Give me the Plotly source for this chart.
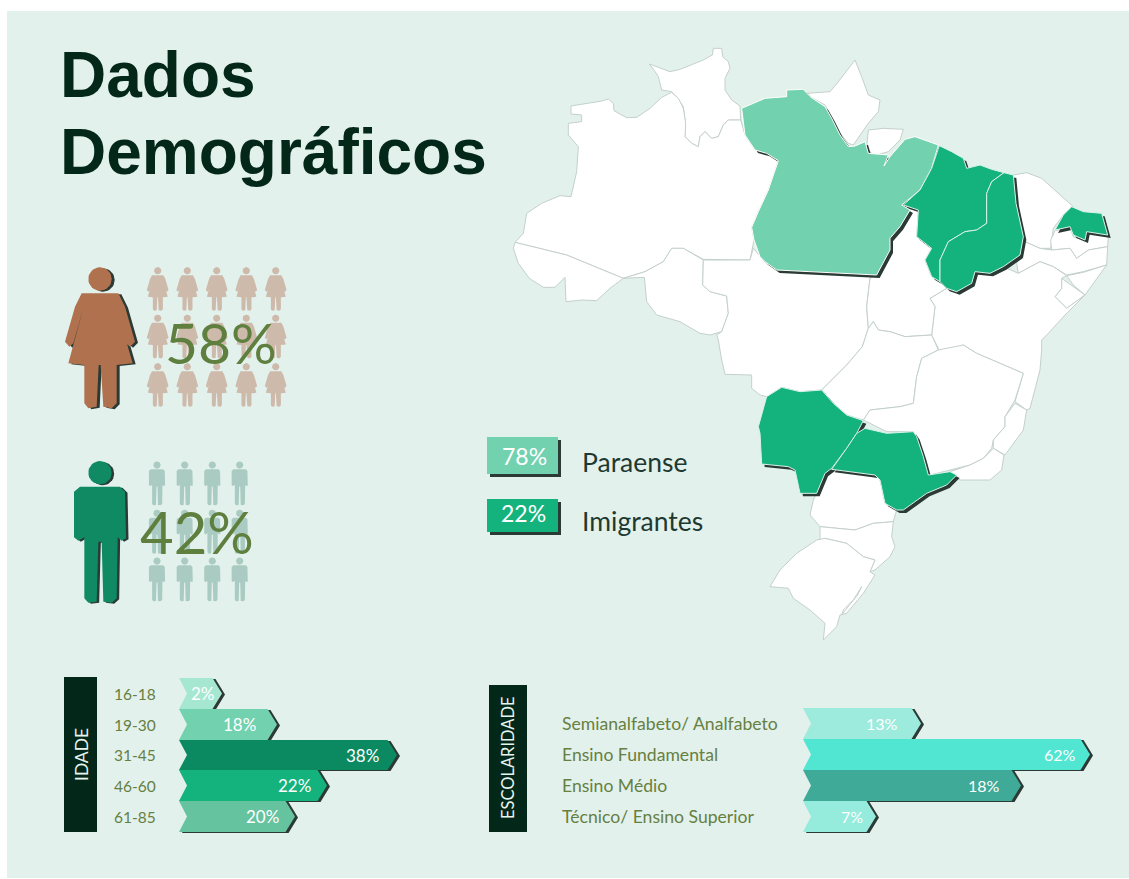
import plotly.graph_objects as go
import math

# ---------- data ----------
idade_faixas = ["16-18", "19-30", "31-45", "46-60", "61-85"]
idade_pct = ["2%", "18%", "38%", "22%", "20%"]
idade_comp = [43, 98, 218, 148, 116]          # drawn length
idade_cores = ["#a6e7d2", "#72d1af", "#0b8a62", "#14b37d", "#66c39f"]
idade_txt_x = [203, 239, 362, 294, 262]

esc_faixas = ["Semianalfabeto/ Analfabeto", "Ensino Fundamental", "Ensino Médio", "Técnico/ Ensino Superior"]
esc_pct = ["13%", "62%", "18%", "7%"]
esc_comp = [118, 287, 218, 73]
esc_cores = ["#9cebdc", "#50e6d2", "#3faa98", "#95ebdc"]
esc_txt_x = [882, 1060, 984, 852]

def a_(p):
    return [(510 + x / 3, 40 + y / 3) for x, y in p]

def b_(p):
    return [(810 + x / 3, 40 + y / 3) for x, y in p]

def c_(p):
    return [(700 + x / 3, 330 + y / 3) for x, y in p]

roraima = a_([(418,72),(445,82),(480,95),(510,88),(540,75),(580,60),(607,45),(610,25),(635,25),(638,50),(655,65),(660,85),(645,115),(645,150),(665,180),(690,198),(692,240),(655,240),(640,255),(625,290),(605,295),(585,275),(570,290),(565,320),(545,310),(525,290),(525,240),(520,200),(500,170),(485,155),(455,150),(445,110),(432,90)])
amazonas = a_([(183,198),(220,192),(255,188),(275,183),(295,177),(310,190),(312,212),(350,233),(380,232),(420,205),(455,172),(485,157),(505,175),(520,205),(527,250),(525,290),(545,310),(565,320),(570,290),(585,275),(605,295),(625,290),(640,255),(655,240),(692,240),(705,285),(735,330),(770,340),(805,362),(775,450),(745,515),(725,562),(732,600),(720,660),(580,658),(520,625),(485,625),(460,665),(405,695),(340,715),(170,645),(15,607),(40,580),(50,520),(95,490),(150,467),(183,470),(200,395),(205,320),(175,285),(175,250),(215,245),(215,225),(183,222)])
acre = a_([(15,607),(170,645),(340,715),(300,745),(260,782),(215,780),(168,785),(165,712),(135,742),(100,742),(58,715),(25,670),(10,625)])
rondonia = a_([(340,715),(405,695),(460,665),(485,625),(520,625),(580,660),(578,735),(600,755),(650,768),(655,820),(635,875),(600,885),(570,880),(510,845),(440,825),(410,785),(403,712)])
mato_grosso = a_([(580,660),(720,660),(730,625),(760,660),(800,690)]) + b_([(200,705),(180,715),(170,800),(175,865)]) + c_([(487,50),(440,105),(385,160),(365,180),(300,185),(245,172),(200,200),(180,195),(155,175),(155,135),(75,133),(65,90),(55,30)]) + a_([(620,885),(635,875),(655,820),(650,768),(600,755),(578,735)])
amapa = b_([(-10,160),(60,155),(85,125),(135,60),(155,110),(175,165),(210,180),(205,215),(175,250),(150,285),(130,315),(115,310),(90,280),(65,230),(45,195),(0,170)])
marajo = b_([(175,270),(220,265),(280,268),(270,300),(235,335),(190,348),(170,320)])
para = a_([(695,205),(765,175),(830,170),(830,150),(880,148)]) + b_([(0,170),(45,200),(65,235),(90,285),(115,320),(135,318),(165,305),(175,340),(235,345),(222,378),(240,350),(285,298),(315,290),(385,315),(365,385),(330,450),(275,495),(300,510),(270,560),(240,595),(240,630),(200,705)]) + a_([(800,690),(765,665),(750,650),(732,600),(725,562),(745,515),(775,450),(805,362),(770,340),(735,330),(705,285)])
maranhao = b_([(388,317),(425,335),(460,355),(470,385),(510,375),(545,388),(582,398),(545,425),(530,460),(530,550),(500,570),(465,575),(415,605),(390,660),(390,725),(365,710),(345,660),(365,625),(320,590),(325,510),(280,495),(330,450),(365,385)])
piaui = b_([(582,398),(610,405),(618,490),(640,590),(630,645),(580,680),(540,700),(495,695),(485,730),(440,755),(410,745),(390,725),(390,660),(415,605),(465,575),(500,570),(530,550),(530,460),(545,425)])
ceara = b_([(610,405),(650,398),(695,415),(745,460),(790,500),(760,525),(730,565),(722,625),(690,625),(645,605),(640,590),(618,490)])
rio_grande_norte = b_([(785,500),(820,515),(875,520),(893,585),(830,575),(825,600),(790,585),(780,560),(735,570),(760,525)])
paraiba = b_([(735,572),(780,562),(790,590),(825,603),(832,578),(895,588),(893,620),(835,630),(800,655),(780,625),(725,630),(722,600)])
pernambuco = b_([(645,605),(690,625),(725,630),(780,625),(800,655),(835,630),(893,620),(890,675),(820,695),(770,705),(730,680),(690,665),(625,700),(620,670),(630,645)])
alagoas = b_([(770,707),(820,697),(890,675),(860,715),(825,765),(790,735)])
sergipe = b_([(755,715),(825,765),(770,805),(735,770),(755,745)])
bahia = b_([(410,745),(440,755),(485,730),(495,695),(540,700),(580,680),(625,700),(690,665),(730,680),(770,707),(755,715),(755,745),(735,770),(770,805),(825,765),(765,825),(715,880),(695,900)]) + c_([(1025,60),(1020,120),(990,235),(980,240),(945,215),(970,130),(900,100),(830,70),(790,45),(710,80),(715,55),(695,15)]) + b_([(365,885),(375,800),(360,775)])
tocantins = b_([(180,715),(200,705),(240,630),(240,595),(270,560),(300,510),(280,495),(325,510),(320,590),(365,625),(345,660),(365,710),(390,725),(410,745),(360,775),(375,800),(365,885),(285,890),(240,875),(205,870),(190,845),(175,865),(170,800)])
goias = b_([(190,845),(205,870),(240,875),(285,890),(365,885)]) + c_([(695,15),(715,60),(695,70),(665,85),(650,140),(640,220),(600,230),(510,240),(490,270),(440,255),(400,220),(365,180),(385,160),(440,105),(487,50)]) + b_([(175,865)])
minas = c_([(650,140),(665,85),(695,70),(715,60),(790,45),(830,70),(900,100),(970,130),(945,210),(915,260),(915,290),(880,330),(875,355),(850,385),(810,405),(750,420),(690,435),(680,430),(670,380),(650,320),(640,305),(560,305),(490,270),(510,240),(600,230),(640,220)])
espirito_santo = c_([(945,220),(980,240),(970,300),(915,375),(880,355),(880,330),(915,290),(915,260)])
rio_janeiro = c_([(880,355),(912,375),(905,420),(870,450),(780,450),(750,425),(810,405),(850,385)])
mato_grosso_sul = c_([(245,172),(300,185),(365,180),(400,220),(440,255),(490,272),(470,310),(440,355),(395,415),(375,430),(350,490),(300,490),(285,420),(265,410),(185,402),(180,310),(175,290),(200,200)])
sao_paulo = c_([(495,295),(560,310),(640,305),(650,320),(670,380),(685,435),(750,425),(770,435),(740,465),(680,490),(610,540),(590,540),(555,520),(540,450),(525,435),(450,425),(395,418),(440,355),(470,310)])
parana = c_([(375,430),(395,420),(450,425),(525,435),(540,450),(555,520),(590,540),(580,575),(520,580),(465,600),(360,590),(330,555),(340,510),(350,490)])
santa_catarina = c_([(360,590),(465,600),(520,580),(580,575),(575,620),(585,650),(570,680),(525,720),(510,725),(525,690),(490,680),(440,640),(375,625),(360,630)])
rio_grande_sul = c_([(375,625),(440,640),(490,680),(525,690),(510,725),(525,735),(490,790),(440,850),(420,855),(410,890),(370,930),(375,880),(330,840),(280,805),(265,775),(210,770),(240,720),(290,670),(350,630)])
lagoa = c_([(485,770),(470,800),(430,840),(425,855),(460,810)])

estados_brancos = [roraima, amazonas, acre, rondonia, mato_grosso, amapa, marajo, ceara, paraiba, pernambuco,
                   alagoas, sergipe, bahia, tocantins, goias, minas, espirito_santo, rio_janeiro,
                   parana, santa_catarina, rio_grande_sul, lagoa]
estados_paraense = [para]
estados_imigrantes = [maranhao, piaui, rio_grande_norte, mato_grosso_sul, sao_paulo]

mulher = [(95,130),(205,130),(225,170),(255,275),(240,290),(228,280),(200,175),(248,340),(200,345),(200,460),(185,475),(160,470),(152,345),(146,345),(140,470),(115,475),(103,460),(103,345),(55,340),(100,175),(70,280),(58,290),(45,275),(75,170)]
homem = [(90,110),(210,110),(225,125),(228,265),(215,272),(203,262),(200,445),(185,458),(160,455),(155,275),(145,275),(140,455),(115,458),(103,445),(103,262),(85,272),(72,262),(72,125)]

# ---------- helpers ----------
BG = "#e3f1ed"
DARK = "#03281a"
SHADOW = "#2b3a34"
fig = go.Figure()

def poly(pts, color, line=None, lw=1, dx=0, dy=0):
    xs = [p[0] + dx for p in pts] + [pts[0][0] + dx]
    ys = [p[1] + dy for p in pts] + [pts[0][1] + dy]
    fig.add_trace(go.Scatter(x=xs, y=ys, mode="lines", fill="toself", fillcolor=color,
                             line=dict(color=line or color, width=lw if line else 0),
                             hoverinfo="skip", showlegend=False))

def text(x, y, s, size, color, font="Lato", anchor="center", angle=0, bold=False):
    fig.add_annotation(x=x, y=y, text=f"<b>{s}</b>" if bold else s, showarrow=False, xanchor=anchor, yanchor="middle",
                       textangle=angle, font=dict(family=font, size=size, color=color))

def circle(cx, cy, r):
    return [(cx + r * math.cos(i * math.pi / 16), cy + r * math.sin(i * math.pi / 16)) for i in range(32)]

def pessoa(tpl, ox, oy, k, centro, head_y, color):
    body = [(ox + (a - centro) * k, oy + b * k) for a, b in tpl]
    head = circle(ox, oy + head_y * k, 35 * k)
    poly(body, color)
    poly(head, color)

def divisa(rows, comps, cores, x0):
    for i, c in enumerate(comps):
        top, bot = rows[i], rows[i + 1]
        mid = (top + bot) / 2
        pts = [(x0, top), (x0 + c - 9.5, top), (x0 + c, mid), (x0 + c - 9.5, bot), (x0, bot), (x0 + 8, mid)]
        poly(pts, SHADOW, dx=3, dy=1)
    for i, c in enumerate(comps):
        top, bot = rows[i], rows[i + 1]
        mid = (top + bot) / 2
        pts = [(x0, top), (x0 + c - 9.5, top), (x0 + c, mid), (x0 + c - 9.5, bot), (x0, bot), (x0 + 8, mid)]
        poly(pts, cores[i])

# ---------- background ----------
poly([(7, 11), (1129, 11), (1129, 878), (7, 878)], BG)

# ---------- map ----------
for e in estados_brancos:
    poly(e, "#ffffff", line="#c4d0cb", lw=1)
for e in estados_paraense + estados_imigrantes:
    poly(e, SHADOW, dx=3, dy=3)
for e in estados_paraense:
    poly(e, "#72d1af", line="#ffffff", lw=1)
for e in estados_imigrantes:
    poly(e, "#14b37d", line="#d8f3e9", lw=1)

# ---------- title ----------
text(58, 75, "Dados", 64, DARK, "Liberation Sans", "left", bold=True)
text(58, 152, "Demográficos", 64, DARK, "Liberation Sans", "left", bold=True)

# ---------- people ----------
K = 0.31 / 3
for cx in [157.7, 187.3, 216.7, 246.3, 275.7]:
    for top in [261.7, 309.3, 357.7]:
        pessoa(mulher, cx, top, K, 150, 87, "#cdbaaa")
pessoa(mulher, 103, 251, 1 / 3, 150, 87, SHADOW)
pessoa(mulher, 100, 250, 1 / 3, 150, 87, "#b0714f")
text(221, 342, "58%", 57, "#5f7f3f")

for cx in [157, 184.7, 212.3, 239.7]:
    for top in [458, 506.3, 554]:
        pessoa(homem, cx, top, K, 150, 68, "#a9cbc1")
pessoa(homem, 102.5, 451, 1 / 3, 150, 68, SHADOW)
pessoa(homem, 100, 450, 1 / 3, 150, 68, "#0f8a63")
text(197, 531, "42%", 58, "#5f7f3f")

# ---------- legend ----------
poly([(487, 437), (558, 437), (558, 474), (487, 474)], SHADOW, dx=3, dy=3)
poly([(487, 437), (558, 437), (558, 474), (487, 474)], "#72d1af")
poly([(487, 499), (558, 499), (558, 532), (487, 532)], SHADOW, dx=3, dy=3)
poly([(487, 499), (558, 499), (558, 532), (487, 532)], "#14b37d")
text(524, 456, "78%", 23, "#ffffff")
text(523, 513, "22%", 23, "#ffffff")
text(580, 462, "Paraense", 26.5, "#1e3a30", anchor="left")
text(580, 521, "Imigrantes", 26.5, "#1e3a30", anchor="left")

# ---------- idade ----------
poly([(64, 677), (97, 677), (97, 832), (64, 832)], DARK)
text(81, 755, "IDADE", 17.5, "#e8f5ef", angle=-90)
linhas_i = [678, 709, 740, 770, 801, 832]
divisa(linhas_i, idade_comp, idade_cores, 179)
for i, f in enumerate(idade_faixas):
    m = (linhas_i[i] + linhas_i[i + 1]) / 2
    text(112, m, f, 15.5, "#66803f", anchor="left")
    text(idade_txt_x[i], m, idade_pct[i], 17, "#ffffff")

# ---------- escolaridade ----------
poly([(489, 685), (527, 685), (527, 832), (489, 832)], DARK)
text(508, 758, "ESCOLARIDADE", 16.5, "#e8f5ef", angle=-90)
linhas_e = [708, 739, 770, 801, 832]
divisa(linhas_e, esc_comp, esc_cores, 803)
for i, f in enumerate(esc_faixas):
    m = (linhas_e[i] + linhas_e[i + 1]) / 2
    text(560, m, f, 17.6, "#66803f", anchor="left")
    text(esc_txt_x[i], m, esc_pct[i], 16, "#ffffff")

fig.update_layout(
    width=1129, height=879, margin=dict(l=0, r=0, t=0, b=0),
    paper_bgcolor="#ffffff", plot_bgcolor="#ffffff", showlegend=False,
    xaxis=dict(range=[0, 1129], visible=False, fixedrange=True),
    yaxis=dict(range=[879, 0], visible=False, fixedrange=True),
)
fig.write_html("out.html", post_script="document.body.style.margin='0';", config={"displayModeBar": False})
